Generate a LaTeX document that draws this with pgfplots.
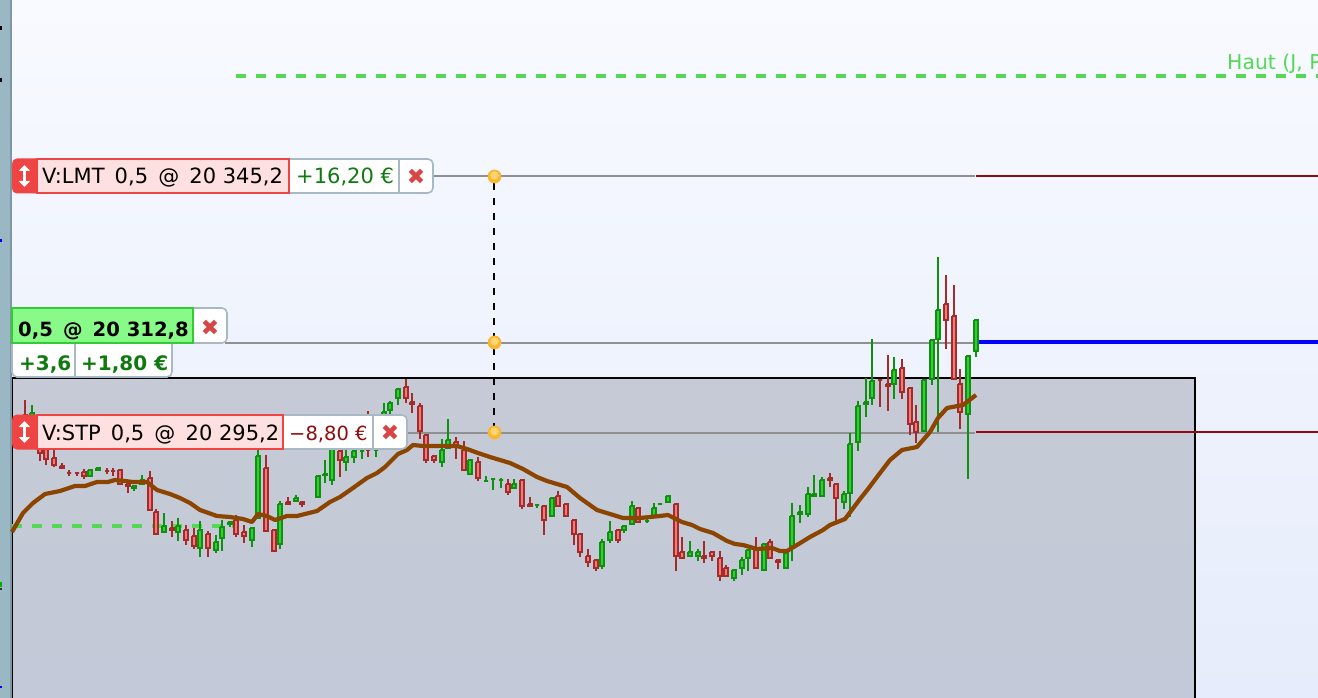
\documentclass[border=0pt]{standalone}
\usepackage{pgfplots}
\pgfplotsset{compat=1.18}
\usepackage{fontspec}
\setmainfont{DejaVu Sans}
\usetikzlibrary{arrows.meta}
\definecolor{gb}{HTML}{109010}\definecolor{gf}{HTML}{2FD02F}
\definecolor{rb}{HTML}{A52A2A}\definecolor{rf}{HTML}{F27A7A}
\definecolor{ma}{HTML}{8B4500}\definecolor{dg}{HTML}{55D855}
\definecolor{tg}{HTML}{0F7A0F}\definecolor{tr}{HTML}{8F0D0D}
\definecolor{gl}{HTML}{909090}\definecolor{bd}{HTML}{A8B8C4}
\definecolor{pk}{HTML}{FFE0E0}\definecolor{rd}{HTML}{EE4444}
\definecolor{xr}{HTML}{D94444}\definecolor{do}{HTML}{FCB52F}\definecolor{di}{HTML}{FFD670}
\newcommand\cdl[7]{%
  \addplot[#6,line width=2pt,forget plot] coordinates {(#1,#2)(#1,#5)};
  \pgfmathsetmacro\xl{#1-2}\pgfmathsetmacro\xr{#1+2}%
  \pgfmathsetmacro\yt{#3+1}\pgfmathsetmacro\yb{#4-1}%
  \addplot[draw=#6,fill=#7,line width=2pt,miter limit=10,forget plot] coordinates {(\xl,\yt)(\xr,\yt)(\xr,\yb)(\xl,\yb)(\xl,\yt)};
}
\newcommand\G[5]{\cdl{#1}{#2}{#3}{#4}{#5}{gb}{gf}}
\newcommand\R[5]{\cdl{#1}{#2}{#3}{#4}{#5}{rb}{rf}}
\begin{document}
\begin{tikzpicture}[x=1pt,y=1pt]
\path[use as bounding box] (0,0) rectangle (1318pt,698pt);
\begin{axis}[at={(0,0)},anchor=south west,scale only axis,width=1318pt,height=698pt,
  xmin=0,xmax=1318,ymin=0,ymax=698,y dir=reverse,hide axis,clip=true]
% backdrop
\fill[top color={rgb,255:red,248;green,250;blue,255},bottom color={rgb,255:red,230;green,236;blue,251},draw=none] (0,0) rectangle (1318,698);
\fill[top color={rgb,255:red,198;green,202;blue,214},bottom color={rgb,255:red,195;green,201;blue,217},draw=black,line width=1.6pt] (12,378) rectangle (1195,710);
\fill[fill={rgb,255:red,154;green,183;blue,196}] (0,0) rectangle (10,698);
\fill[fill={rgb,255:red,127;green,150;blue,166}] (10,0) rectangle (12,698);
\fill[black] (0,26) rectangle (2,30);\fill[black] (0,78) rectangle (2,82);
\fill[blue] (0,239) rectangle (2,242);\fill[green!70!black] (0,582) rectangle (2,587);
\fill[black!80] (0,588) rectangle (2,590);\fill[blue] (0,686) rectangle (2,688);
% dashed daily levels
\addplot[dg,line width=4pt,dash pattern=on 10pt off 10pt,forget plot] coordinates {(236,76)(1318,76)};
\addplot[dg,line width=4pt,dash pattern=on 10pt off 10pt,forget plot] coordinates {(12,526)(235,526)};
\node[anchor=base west,inner sep=0pt,text=dg,font=\fontsize{20.4}{21}\selectfont] at (1227,70) {Haut (J, P};
% order lines behind candles
\addplot[gl,line width=2pt,forget plot] coordinates {(430,176.5)(975,176.5)};
\addplot[gl,line width=2pt,forget plot] coordinates {(225,342.5)(975,342.5)};
\addplot[gl,line width=2pt,forget plot] coordinates {(405,432.5)(975,432.5)};
\addplot[black,line width=2pt,dash pattern=on 7pt off 8pt,forget plot] coordinates {(494,183)(494,428)};
\addplot[tr,line width=1.7pt,forget plot] coordinates {(976,176)(1318,176)};
\addplot[tr,line width=1.7pt,forget plot] coordinates {(976,432)(1318,432)};
\addplot[blue,line width=4pt,forget plot] coordinates {(976,342)(1318,342)};
% candles: x, high, body top, body bottom, low
\R{25}{400}{414}{440}{446}\G{32}{405}{412}{440}{446}\R{40}{436}{440}{454}{461}\R{46}{440}{445}{460}{465}
\R{54}{450}{457}{466}{467}\R{62}{463}{465}{469}{469}\R{69}{470}{471.5}{473.5}{476}\R{77}{472}{472}{474}{476}
\R{84}{469}{471}{477}{479}\G{90}{469}{469}{477}{477}\G{98}{467}{467}{471}{471}\R{107}{468}{470}{472}{474}
\R{113}{468}{470}{472}{476}\R{120}{469}{469}{485}{485}\R{128}{480}{483}{487}{493}\G{134}{485}{485}{489}{491}
\G{142}{475}{479}{485}{485}\R{150}{471}{477}{511}{511}\R{156}{509}{511}{535}{535}\G{164}{513}{525}{533}{533}
\R{172}{521}{527}{531}{537}\G{178}{518}{525}{533}{541}\R{186}{525}{529}{541}{545}\R{194}{528}{535}{547}{549}
\G{200}{521}{529}{549}{557}\R{208}{531}{533}{549}{557}\G{216}{535}{541}{551}{553}\G{222}{520}{526}{539}{551}
\G{230}{521}{521}{525}{527}\R{236}{515}{519}{535}{537}\R{244}{525}{531}{537}{543}\G{252}{527}{527}{541}{547}
\G{258}{450}{455}{519}{519}\R{266}{455}{467}{532}{532}\R{274}{529}{529}{552}{552}\G{280}{501}{503}{545}{549}
\R{288}{497}{501}{505}{505}\G{296}{495}{497}{502}{502}\R{302}{501}{501}{505}{507}\G{318}{475}{475}{498}{498}
\G{325}{460}{473}{476}{483}\G{332}{440}{445}{481}{485}\R{340}{440}{450}{461}{477}\G{346}{450}{456}{463}{471}
\G{354}{445}{450}{458}{463}\G{362}{441}{450}{452}{459}\R{368}{411}{449}{451}{457}\G{376}{430}{449}{451}{457}
\G{384}{403}{411}{440}{445}\G{390}{401}{402}{411}{416}\G{398}{388}{388}{399}{405}\R{406}{379}{386}{399}{403}
\R{412}{393}{401}{405}{413}\R{420}{403}{405}{432}{439}\R{426}{434}{434}{461}{463}\R{434}{455}{455}{461}{463}
\G{442}{439}{449}{463}{467}\G{448}{419}{439}{449}{449}\R{456}{437}{441}{447}{459}\R{464}{441}{449}{471}{471}
\G{470}{459}{459}{475}{475}\R{478}{457}{461}{479}{481}\G{486}{476}{480}{482}{482}\G{493}{478}{478}{480}{490}
\G{501}{478}{479}{481}{488}\R{508}{479}{483}{493}{495}\G{514}{479}{483}{489}{489}\R{522}{479}{479}{507}{509}
\R{530}{497}{503}{507}{507}\G{537}{504}{504}{506}{508}\R{544}{505}{505}{521}{535}\G{552}{497}{497}{517}{517}
\R{558}{491}{495}{507}{507}\R{566}{503}{503}{517}{517}\R{574}{519}{519}{535}{545}\R{580}{533}{533}{553}{557}
\R{588}{549}{555}{563}{567}\R{596}{559}{559}{569}{571}\G{602}{539}{541}{567}{569}\G{610}{521}{531}{541}{543}
\R{618}{529}{529}{541}{543}\G{624}{525}{525}{531}{533}\G{632}{501}{505}{525}{525}\R{638}{507}{507}{523}{523}
\G{647}{519}{520}{522}{523}\G{654}{503}{507}{517}{517}\G{660}{503}{503}{505}{505}\G{668}{495}{495}{503}{503}
\R{676}{503}{503}{557}{571}\R{682}{537}{551}{559}{559}\G{690}{541}{551}{557}{557}\G{698}{549}{551}{557}{561}
\R{704}{541}{555}{559}{563}\R{712}{551}{551}{557}{561}\R{720}{551}{557}{577}{581}\R{726}{565}{567}{577}{577}
\G{734}{569}{569}{579}{581}\G{742}{557}{559}{569}{575}\G{748}{549}{549}{559}{571}\R{756}{537}{549}{569}{569}
\G{764}{543}{543}{571}{571}\R{770}{539}{541}{559}{559}\R{778}{559}{559}{563}{569}\G{786}{552}{552}{569}{569}
\G{792}{503}{515}{547}{561}\G{800}{505}{511}{515}{523}\G{808}{487}{493}{515}{517}\G{814}{475}{493}{497}{497}
\G{822}{477}{479}{497}{497}\R{830}{473}{477}{481}{487}\R{836}{483}{483}{499}{521}\G{844}{491}{493}{503}{509}
\G{850}{433}{443}{494}{517}\G{858}{401}{405}{443}{451}\G{866}{378}{401}{405}{417}\G{872}{339}{380}{399}{405}
\R{880}{379}{379}{381}{407}\R{888}{355}{383}{387}{411}\G{894}{357}{369}{385}{399}\R{902}{359}{367}{393}{399}
\R{910}{387}{387}{425}{435}\R{916}{405}{421}{433}{443}\G{924}{379}{379}{432}{432}\G{932}{339}{339}{380}{385}
\G{938}{257}{309}{340}{432}\R{946}{275}{303}{321}{349}\R{954}{285}{315}{380}{380}\R{960}{369}{383}{413}{429}
\G{968}{355}{355}{415}{479}\G{976}{319}{319}{352}{357}
% moving average
\addplot[ma,line width=4.2pt,line join=round,forget plot] coordinates {
(12,532)(23,513)(33,503)(45,494)(60,491)(75,486)(85,486)(97,482)(108,482)(115,480)(125,481)(133,482)(147,482)(157,490)(170,494)(180,498)(190,503)(200,510)(217,516)(230,517)(243,519)(252,522)(258,514)(267,516)(275,520)(287,516)(297,516)(317,511)(330,502)(340,497)(353,488)(367,478)(377,473)(385,467)(398,454)(407,450)(413,445)(423,446)(440,446)(457,446)(467,449)(478,453)(490,457)(510,463)(523,469)(537,477)(547,481)(567,487)(580,498)(597,510)(623,518)(640,518)(660,516)(668,515)(682,522)(692,525)(700,529)(713,533)(727,541)(735,544)(743,545)(757,549)(772,548)(780,551)(787,551)(797,545)(810,537)(823,530)(830,525)(845,519)(860,499)(868,489)(877,477)(890,460)(902,450)(917,447)(930,432)(938,418)(947,408)(963,405)(976,395)};
% handles
\addplot[only marks,mark=*,mark size=6.6pt,mark options={fill=do,draw=do,line width=0.5pt},forget plot] coordinates {(494.5,176.5)(494.5,342.5)(494.5,432.5)};
\addplot[only marks,mark=*,mark size=4pt,mark options={fill=di,draw=di,line width=0.3pt},forget plot] coordinates {(494.5,175.5)(494.5,341.5)(494.5,431.5)};
% LMT order label
\draw[fill=white,draw=bd,line width=1.6pt] (289,159) [rounded corners=5pt]-- (433,159) -- (433,193) [sharp corners]-- (289,193) -- cycle;
\draw[draw=bd,line width=1.2pt] (399,159) -- (399,193);
\fill[rd] (37,158.5) [rounded corners=5pt]-- (12,158.5) -- (12,193.5) [sharp corners]-- (37,193.5) -- cycle;
\draw[white,line width=3pt,{Triangle[width=11pt,length=6pt]}-{Triangle[width=11pt,length=6pt]}] (24.5,165) -- (24.5,187);
\draw[fill=pk,draw=rd,line width=1.4pt] (37,159) rectangle (289,193);
\node[anchor=base west,inner sep=0pt,font=\fontsize{21}{21}\selectfont] at (42,184) {V:LMT\, 0,5\, @\, 20 345,2};
\node[anchor=base west,inner sep=0pt,text=tg,font=\fontsize{21}{21}\selectfont] at (296,184) {+16,20 €};
\node[text=xr,inner sep=0pt,font=\fontsize{22}{22}\selectfont] at (416,177) {✖};
% position label
\draw[fill=white,draw=bd,line width=1.6pt] (12,343) -- (172,343) [rounded corners=5pt]-- (172,377) -- (12,377) [sharp corners]-- cycle;
\draw[draw=bd,line width=1.2pt] (75,343) -- (75,377);
\draw[fill=white,draw=bd,line width=1.6pt] (193,308) [rounded corners=5pt]-- (227,308) -- (227,343) [sharp corners]-- (193,343) -- cycle;
\draw[fill={rgb,255:red,136;green,250;blue,136},draw={rgb,255:red,51;green,204;blue,51},line width=1.4pt] (12,308) rectangle (193,343);
\node[anchor=base west,inner sep=0pt,font=\bfseries\fontsize{19.6}{20}\selectfont] at (18,336) {0,5\, @\, 20 312,8};
\node[text=xr,inner sep=0pt,font=\fontsize{22}{22}\selectfont] at (210,328) {✖};
\node[anchor=base west,inner sep=0pt,text=tg,font=\bfseries\fontsize{20}{20}\selectfont] at (19,370) {+3,6};
\node[anchor=base west,inner sep=0pt,text=tg,font=\bfseries\fontsize{20}{20}\selectfont] at (81,370) {+1,80 €};
% STP order label
\draw[fill=white,draw=bd,line width=1.6pt] (283,415) [rounded corners=5pt]-- (407,415) -- (407,449) [sharp corners]-- (283,449) -- cycle;
\draw[draw=bd,line width=1.2pt] (373,415) -- (373,449);
\fill[rd] (37,414.5) [rounded corners=5pt]-- (12,414.5) -- (12,449.5) [sharp corners]-- (37,449.5) -- cycle;
\draw[white,line width=3pt,{Triangle[width=11pt,length=6pt]}-{Triangle[width=11pt,length=6pt]}] (24.5,421) -- (24.5,443);
\draw[fill=pk,draw=rd,line width=1.4pt] (37,415) rectangle (283,449);
\node[anchor=base west,inner sep=0pt,font=\fontsize{21}{21}\selectfont] at (42,440) {V:STP\, 0,5\, @\, 20 295,2};
\node[anchor=base west,inner sep=0pt,text=tr,font=\fontsize{19.5}{20}\selectfont] at (289,440) {−8,80 €};
\node[text=xr,inner sep=0pt,font=\fontsize{22}{22}\selectfont] at (390,433) {✖};
\end{axis}
\end{tikzpicture}
\end{document}
